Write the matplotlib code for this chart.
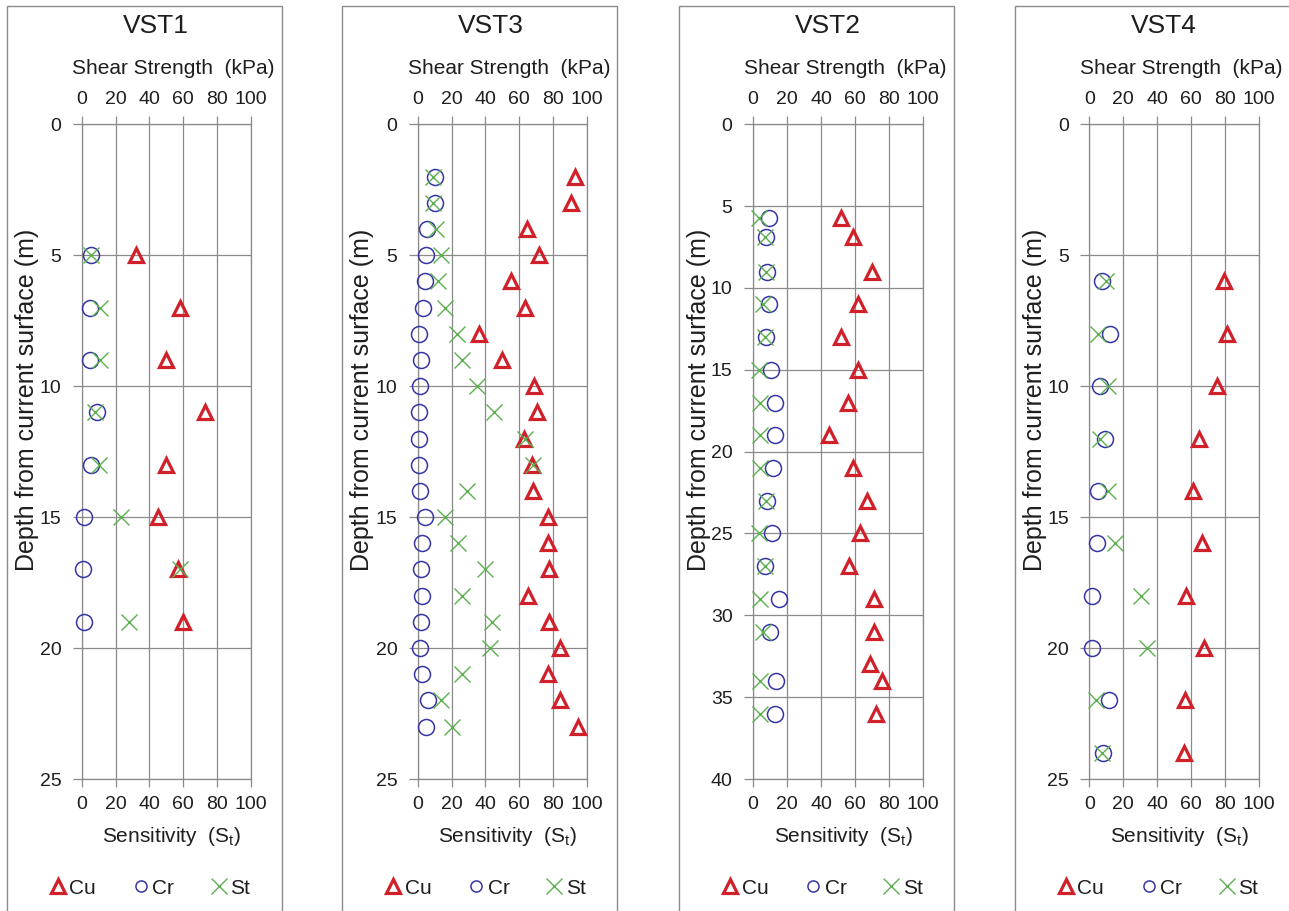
import matplotlib
matplotlib.use("Agg")
import matplotlib.pyplot as plt
from matplotlib.patches import Rectangle
from matplotlib.lines import Line2D
import numpy as np

plt.rcParams['font.family'] = ['Liberation Sans', 'DejaVu Sans']
plt.rcParams['mathtext.fontset'] = 'custom'
plt.rcParams['mathtext.rm'] = 'Liberation Sans'

# ---- field vane shear test data (depth in m, Cu/Cr in kPa, St dimensionless) ----
vst1_depth = [5, 7, 9, 11, 13, 15, 17, 19]
vst1_cu = [32, 58, 50, 73, 50, 45, 57, 60]
vst1_cr = [5.5, 5, 5, 9, 5.3, 1.5, 1, 1.5]
vst1_st = [5.5, 11, 11, 8, 10, 23, 58, 28]

vst3_depth = [2, 3, 4, 5, 6, 7, 8, 9, 10, 11, 12, 13, 14, 15, 16, 17, 18, 19, 20, 21, 22, 23]
vst3_cu = [93, 91, 64.5, 71.5, 55.5, 63.5, 36, 50, 69, 70.5, 63, 67.5, 68, 77, 77, 77.5,
           65, 77.5, 84, 77, 84, 95]
vst3_cr = [10, 10, 5.7, 4.7, 4.3, 3.3, 1, 2, 1.5, 1, 1, 1, 1.5, 4.3, 2.8, 2, 2.4, 2, 1.5,
           2.4, 6.3, 4.7]
vst3_st = [9, 9, 11, 14, 12, 16, 23, 26, 35, 45, 63.5, 68, 29, 16, 24, 40, 26, 44, 42.5,
           26, 13.5, 20]

vst2_depth = [5.7, 6.9, 9, 11, 13, 15, 17, 19, 21, 23, 25, 27, 29, 31, 33, 34, 36]
vst2_cu = [51.5, 59, 70, 62, 51.5, 62, 56, 45, 58.5, 67, 63, 56.5, 71, 71, 69, 76, 72]
vst2_cr = [9.7, 7.8, 8.2, 9.7, 7.8, 10.5, 13, 13, 11.7, 8.6, 11.5, 7.2, 15.6, 10.1,
           np.nan, 13.5, 13]
vst2_st = [3.5, 7.5, 8, 6, 7.2, 3.9, 4.3, 4.3, 4.3, 7.8, 3.9, 7.2, 4.3, 5.9, np.nan, 4.3, 4.3]

vst4_depth = [6, 8, 10, 12, 14, 16, 18, 20, 22, 24]
vst4_cu = [79, 81, 75, 64.5, 61, 66.5, 57, 67.5, 56.5, 55.5]
vst4_cr = [7.6, 12.2, 6.3, 9.2, 5.3, 4.3, 1.8, 1.8, 11.8, 7.9]
vst4_st = [9.6, 5.3, 11.2, 6.3, 11.2, 15, 30.5, 34, 3.8, 7.3]

x_ticks = [0, 20, 40, 60, 80, 100]

panels = [
    # name, depth, cu, cr, st, max depth, axes left/right px, frame left px
    ("VST1", vst1_depth, vst1_cu, vst1_cr, vst1_st, 25, 81.7, 250.7, 7.0),
    ("VST3", vst3_depth, vst3_cu, vst3_cr, vst3_st, 25, 417.7, 586.7, 342.3),
    ("VST2", vst2_depth, vst2_cu, vst2_cr, vst2_st, 40, 752.7, 923.3, 679.3),
    ("VST4", vst4_depth, vst4_cu, vst4_cr, vst4_st, 25, 1089.3, 1259.3, 1015.0),
]

W, H = 1289, 911
fig = plt.figure(figsize=(W / 100, H / 100), dpi=100)
fig.patch.set_facecolor("white")

c_cu = "#d0202a"
c_cr = "#3535a5"
c_st = "#5cb050"
grid_c = "#8a8a8a"
txt_c = "#1e1e1e"

top_px, bot_px = 124.3, 779.0
frame_w = 275

def fx(px):
    return px / W

def fy(py):
    return 1 - py / H

for name, depth, cu, cr, st, dmax, xl, xr, fl in panels:
    # panel frame
    fig.patches.append(Rectangle((fx(fl), fy(940)), fx(frame_w), fy(6) - fy(940),
                                 transform=fig.transFigure, fill=False,
                                 edgecolor="#8a8a8a", linewidth=1.0, zorder=0))

    ax = fig.add_axes([fx(xl), fy(bot_px), fx(xr - xl), fy(top_px) - fy(bot_px)])
    ax.plot(cu, depth, linestyle="none", marker="^", ms=10, mfc="none", mec=c_cu,
            mew=2.3, clip_on=False, zorder=3)
    ax.plot(cr, depth, linestyle="none", marker="o", ms=11.5, mfc="none", mec=c_cr,
            mew=1.1, clip_on=False, zorder=4)
    ax.plot(st, depth, linestyle="none", marker="x", ms=11, mfc="none", mec=c_st,
            mew=1.0, clip_on=False, zorder=5)

    ax.set_xlim(0, 100)
    ax.set_ylim(dmax, 0)
    ax.set_xticks(x_ticks)
    ax.set_yticks(list(range(0, dmax + 1, 5)))
    ax.grid(True, color=grid_c, linewidth=0.9)
    ax.set_axisbelow(True)
    for sp in ax.spines.values():
        sp.set_color(grid_c)
        sp.set_linewidth(0.9)
    ax.tick_params(axis="x", which="both", top=True, labeltop=True, bottom=True,
                   labelbottom=True, direction="out", length=6, width=0.9,
                   color=grid_c, labelsize=14, labelcolor=txt_c, pad=6)
    ax.tick_params(axis="y", which="both", left=True, right=False, direction="out",
                   length=6.5, width=0.9, color=grid_c, labelsize=14,
                   labelcolor=txt_c, pad=8)

    cx = (xl + xr) / 2
    fig.text(fx(fl + 149), fy(26), name, ha="center", va="center", fontsize=19,
             color=txt_c)
    fig.text(fx(cx + 7), fy(68), "Shear Strength  (kPa)", ha="center", va="center",
             fontsize=15, color=txt_c)
    fig.text(fx(cx + 5), fy(837), r"Sensitivity  (S$_\mathregular{t}$)", ha="center",
             va="center", fontsize=15, color=txt_c)
    fig.text(fx(fl + 20), fy(400), "Depth from current surface (m)", ha="center",
             va="center", rotation=90, fontsize=18, color=txt_c)

    handles = [
        Line2D([], [], linestyle="none", marker="^", ms=10, mfc="none", mec=c_cu, mew=2.3),
        Line2D([], [], linestyle="none", marker="o", ms=8, mfc="none", mec=c_cr, mew=1.1),
        Line2D([], [], linestyle="none", marker="x", ms=11, mfc="none", mec=c_st, mew=1.0),
    ]
    ax.legend(handles, ["Cu", "Cr", "St"], loc="center",
              bbox_to_anchor=(fx(fl + 143), fy(888)), bbox_transform=fig.transFigure,
              ncol=3, frameon=False, fontsize=15, handlelength=0.8,
              handletextpad=0.15, columnspacing=1.75, borderaxespad=0,
              labelcolor=txt_c)

fig.savefig("out.png", dpi=100, facecolor="white")
